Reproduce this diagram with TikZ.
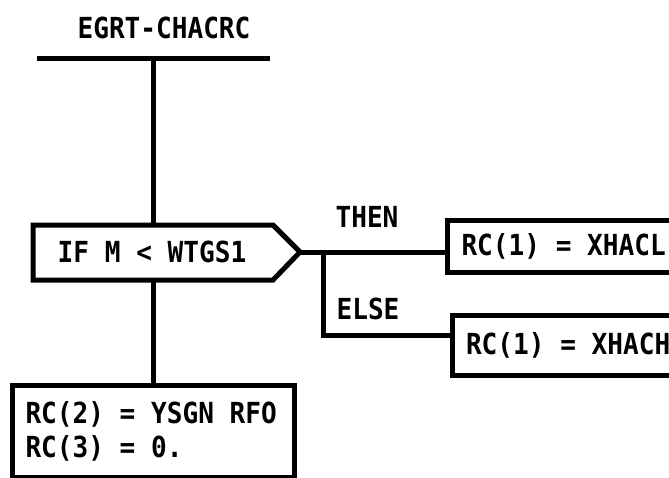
\documentclass[tikz,border=0pt]{standalone}
\usepackage{fontspec}
\newfontfamily\plotfont{DejaVu Sans Mono}[FakeStretch=0.9]
\newcommand\gp{\hspace*{15.7pt}}
\begin{document}
\begin{tikzpicture}[x=1pt,y=-1pt,
  ink/.style={line width=5pt},
  lbl/.style={font=\plotfont\bfseries\fontsize{29}{34}\selectfont, inner sep=0pt},
  stmt/.style={ink, draw, lbl, anchor=north west, align=left, inner ysep=0pt}]
\useasboundingbox (0,0) rectangle (669,477);
\clip (0,0) rectangle (669,477);
% title and entry bar
\node[lbl] (title) at (164,28) {EGRT-CHACRC};
\coordinate (barL) at (37,58);
\coordinate (barR) at (270,58);
\coordinate (bar) at (153,58);
\draw[ink] (barL) -- (barR);
% decision
\coordinate (iftop) at (153,225);
\coordinate (ifbot) at (153,280);
\coordinate (iftip) at (300,252);
\draw[ink] (33,225) -- (273,225) -- (iftip) -- (273,280) -- (33,280) -- cycle;
\node[lbl] (ifbox) at (152,252) {IF\gp M\gp <\gp WTGS1};
% statement boxes
\node[stmt, minimum width=300, minimum height=52, text width=272, inner xsep=14] (thenbox) at (445,218) {RC(1)\gp=\gp XHACL};
\node[stmt, minimum width=300, minimum height=60, text width=273, inner xsep=13] (elsebox) at (450,313) {RC(1)\gp=\gp XHACH};
\node[stmt, minimum width=282, minimum height=92, text width=256, inner xsep=13] (botbox) at (10,383) {RC(2)\gp=\gp YSGN\gp RFO\\RC(3)\gp=\gp 0.};
% labels
\node[lbl] (thenlbl) at (367,217) {THEN};
\node[lbl] (elselbl) at (368,309) {ELSE};
% connectors
\draw[ink] (bar) -- (iftop);
\draw[ink] (ifbot) -- (ifbot |- botbox.north);
\draw[ink] (iftip) -- (iftip -| thenbox.west);
\coordinate (split) at (323,252);
\coordinate (elseturn) at (323,335);
\draw[ink] (split) -- (elseturn) -- (elseturn -| elsebox.west);
\end{tikzpicture}
\end{document}
